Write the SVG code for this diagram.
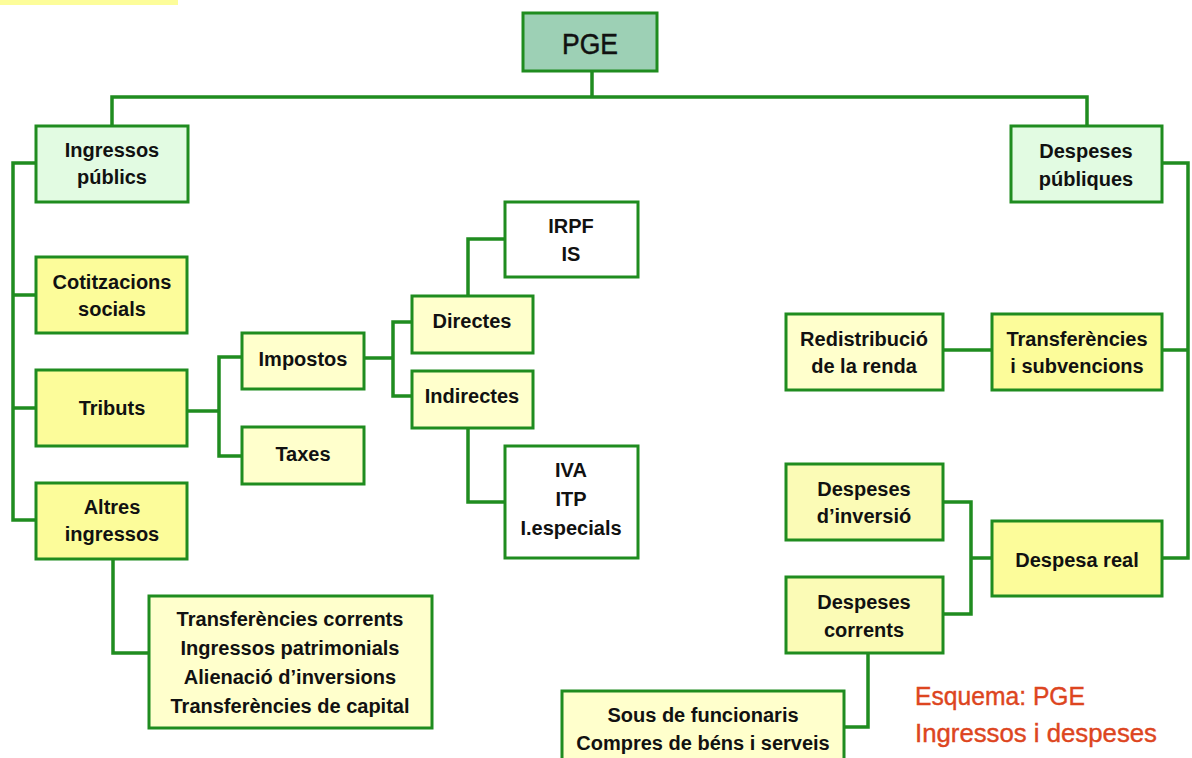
<svg xmlns="http://www.w3.org/2000/svg" width="1192" height="758" viewBox="0 0 1192 758">
<style>
.b{stroke:#1f8c1f;stroke-width:3}
.g{fill:#e2fbe2}
.y{fill:#fcfc9a}
.l{fill:#ffffcc}
.m{fill:#fbfbb6}
.w{fill:#ffffff}
.t{font-family:"Liberation Sans",Arial,sans-serif;font-weight:bold;font-size:20px;fill:#111;text-anchor:middle}
.c{fill:none;stroke:#1f8c1f;stroke-width:3.5;stroke-linejoin:miter}
.r{font-family:"Liberation Sans",Arial,sans-serif;font-size:26px;fill:#dd4520;stroke:#dd4520;stroke-width:0.4}
</style>
<rect x="0" y="0" width="178" height="5" fill="#fdfd9a"/>
<g id="connectors" class="c">
<path d="M592 71V97M112 126V97H1087V126"/>
<path d="M36 163H13V520H36M13 295H36M13 408H36"/>
<path d="M187 411H219M242 357H219V456H242"/>
<path d="M364 358H393M412 322H393V396H412"/>
<path d="M468 296V239H505M468 428V502H505"/>
<path d="M113 559V653H149"/>
<path d="M1162 163H1188V558H1162M1188 350H1162"/>
<path d="M943 350H992"/>
<path d="M943 502H971V614H943M971 558H992"/>
<path d="M868 653V727H843"/>
</g>
<g id="pge"><rect class="b" x="523" y="13" width="134" height="58" fill="#9dd0b5"/><text x="590" y="54" font-family="Liberation Sans, Arial, sans-serif" font-size="30" fill="#111" stroke="#111" stroke-width="0.5" text-anchor="middle" textLength="56" lengthAdjust="spacingAndGlyphs">PGE</text></g>
<g id="ingressos"><rect class="b g" x="36" y="126" width="152" height="76"/><text class="t" x="112" y="157">Ingressos</text><text class="t" x="112" y="184">públics</text></g>
<g id="cotitzacions"><rect class="b y" x="36" y="257" width="151" height="76"/><text class="t" x="112" y="289">Cotitzacions</text><text class="t" x="112" y="316">socials</text></g>
<g id="tributs"><rect class="b y" x="36" y="370" width="151" height="76"/><text class="t" x="112" y="415">Tributs</text></g>
<g id="altres"><rect class="b y" x="36" y="483" width="151" height="76"/><text class="t" x="112" y="514">Altres</text><text class="t" x="112" y="541">ingressos</text></g>
<g id="altres-list"><rect class="b l" x="149" y="596" width="283" height="132"/><text class="t" x="290" y="626">Transferències corrents</text><text class="t" x="290" y="655">Ingressos patrimonials</text><text class="t" x="290" y="684">Alienació d’inversions</text><text class="t" x="290" y="713">Transferències de capital</text></g>
<g id="impostos"><rect class="b l" x="242" y="333" width="122" height="56"/><text class="t" x="303" y="366">Impostos</text></g>
<g id="taxes"><rect class="b l" x="242" y="427" width="122" height="57"/><text class="t" x="303" y="461">Taxes</text></g>
<g id="directes"><rect class="b l" x="412" y="296" width="121" height="57"/><text class="t" x="472" y="328">Directes</text></g>
<g id="indirectes"><rect class="b l" x="412" y="371" width="121" height="57"/><text class="t" x="472" y="403">Indirectes</text></g>
<g id="irpf"><rect class="b w" x="505" y="202" width="133" height="75"/><text class="t" x="571" y="233">IRPF</text><text class="t" x="571" y="261">IS</text></g>
<g id="iva"><rect class="b w" x="505" y="446" width="133" height="112"/><text class="t" x="571" y="477">IVA</text><text class="t" x="571" y="506">ITP</text><text class="t" x="571" y="535">I.especials</text></g>
<g id="despeses"><rect class="b g" x="1011" y="126" width="151" height="76"/><text class="t" x="1086" y="158">Despeses</text><text class="t" x="1086" y="186">públiques</text></g>
<g id="transferencies"><rect class="b y" x="992" y="314" width="170" height="76"/><text class="t" x="1077" y="346">Transferències</text><text class="t" x="1077" y="373">i subvencions</text></g>
<g id="redistribucio"><rect class="b l" x="786" y="314" width="157" height="76"/><text class="t" x="864" y="346">Redistribució</text><text class="t" x="864" y="373">de la renda</text></g>
<g id="inversio"><rect class="b m" x="786" y="464" width="157" height="76"/><text class="t" x="864" y="496">Despeses</text><text class="t" x="864" y="523">d’inversió</text></g>
<g id="corrents"><rect class="b m" x="786" y="577" width="157" height="76"/><text class="t" x="864" y="609">Despeses</text><text class="t" x="864" y="637">corrents</text></g>
<g id="despesa-real"><rect class="b y" x="992" y="521" width="170" height="75"/><text class="t" x="1077" y="567">Despesa real</text></g>
<g id="sous"><rect class="b l" x="562" y="691" width="282" height="80"/><text class="t" x="703" y="722">Sous de funcionaris</text><text class="t" x="703" y="750">Compres de béns i serveis</text></g>
<g id="caption"><text class="r" x="915" y="705" textLength="170" lengthAdjust="spacingAndGlyphs">Esquema: PGE</text><text class="r" x="915" y="742" textLength="242" lengthAdjust="spacingAndGlyphs">Ingressos i despeses</text></g>
</svg>
